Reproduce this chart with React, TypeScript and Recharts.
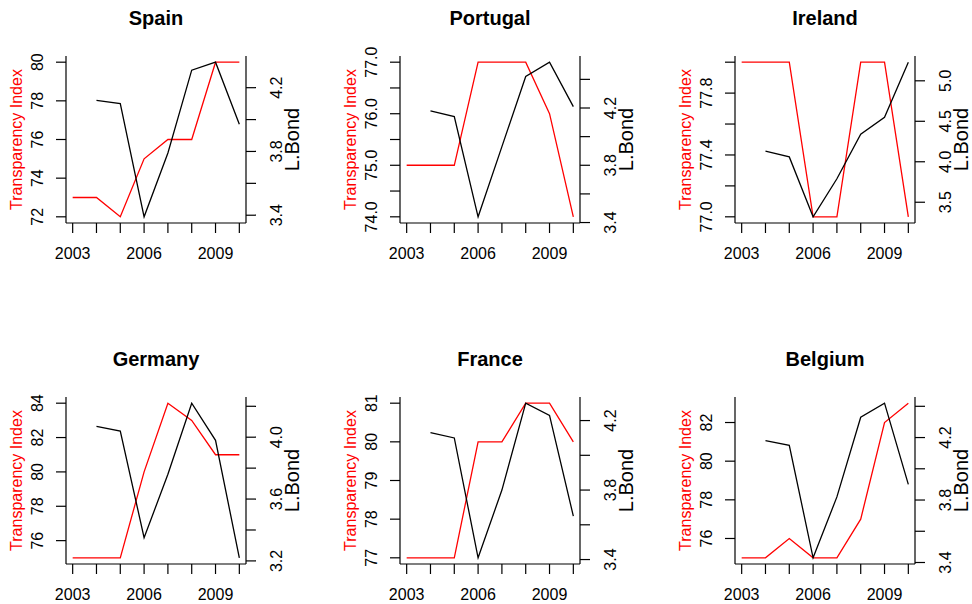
import React from 'react';
import { LineChart, Line, XAxis, YAxis } from 'recharts';

// ---------- data ----------
const years = [2003, 2004, 2005, 2006, 2007, 2008, 2009, 2010];
const xTickLabels = ['2003', '', '', '2006', '', '', '2009', ''];

const spainTI = [73, 73, 72, 75, 76, 76, 80, 80];
const spainBond = [null, 4.12, 4.10, 3.39, 3.79, 4.31, 4.36, 3.97];
const spainLeftTicks = [72, 74, 76, 78, 80];
const spainLeftLabels = ['72', '74', '76', '78', '80'];
const spainRightTicks = [3.4, 3.6, 3.8, 4.0, 4.2];
const spainRightLabels = ['3.4', '', '3.8', '', '4.2'];

const portugalTI = [75, 75, 75, 77, 77, 77, 76, 74];
const portugalBond = [null, 4.18, 4.14, 3.44, 3.93, 4.42, 4.52, 4.21];
const portugalLeftTicks = [74.0, 74.5, 75.0, 75.5, 76.0, 76.5, 77.0];
const portugalLeftLabels = ['74.0', '', '75.0', '', '76.0', '', '77.0'];
const portugalRightTicks = [3.4, 3.6, 3.8, 4.0, 4.2, 4.4];
const portugalRightLabels = ['3.4', '', '3.8', '', '4.2', ''];

const irelandTI = [78, 78, 78, 77, 77, 78, 78, 77];
const irelandBond = [null, 4.13, 4.06, 3.32, 3.79, 4.34, 4.55, 5.23];
const irelandLeftTicks = [77.0, 77.2, 77.4, 77.6, 77.8, 78.0];
const irelandLeftLabels = ['77.0', '', '77.4', '', '77.8', ''];
const irelandRightTicks = [3.5, 4.0, 4.5, 5.0];
const irelandRightLabels = ['3.5', '4.0', '4.5', '5.0'];

const germanyTI = [75, 75, 75, 80, 84, 83, 81, 81];
const germanyBond = [null, 4.07, 4.04, 3.35, 3.76, 4.22, 3.98, 3.22];
const germanyLeftTicks = [76, 78, 80, 82, 84];
const germanyLeftLabels = ['76', '78', '80', '82', '84'];
const germanyRightTicks = [3.2, 3.4, 3.6, 3.8, 4.0, 4.2];
const germanyRightLabels = ['3.2', '', '3.6', '', '4.0', ''];

const franceTI = [77, 77, 77, 80, 80, 81, 81, 80];
const franceBond = [null, 4.13, 4.10, 3.41, 3.80, 4.30, 4.23, 3.65];
const franceLeftTicks = [77, 78, 79, 80, 81];
const franceLeftLabels = ['77', '78', '79', '80', '81'];
const franceRightTicks = [3.4, 3.6, 3.8, 4.0, 4.2];
const franceRightLabels = ['3.4', '', '3.8', '', '4.2'];

const belgiumTI = [75, 75, 76, 75, 75, 77, 82, 83];
const belgiumBond = [null, 4.18, 4.15, 3.43, 3.82, 4.33, 4.42, 3.90];
const belgiumLeftTicks = [76, 78, 80, 82];
const belgiumLeftLabels = ['76', '78', '80', '82'];
const belgiumRightTicks = [3.4, 3.6, 3.8, 4.0, 4.2, 4.4];
const belgiumRightLabels = ['3.4', '', '3.8', '', '4.2', ''];

// ---------- layout ----------
const W = 972;
const H = 604;
const BOX_W = 180;
const BOX_H = 167;
const LEFT_W = 40;
const RIGHT_W = 40;
const X_H = 40;
const FONT = 'Liberation Sans, Arial, Helvetica, sans-serif';

const padDomain = (vals: (number | null)[]): [number, number] => {
  const v = vals.filter((d) => d !== null) as number[];
  const lo = Math.min(...v);
  const hi = Math.max(...v);
  const r = hi - lo;
  return [lo - 0.04 * r, hi + 0.04 * r];
};

const labelFor = (ticks: number[], labels: string[], value: number) => {
  const i = ticks.findIndex((t) => Math.abs(t - value) < 1e-6);
  return i >= 0 ? labels[i] : '';
};

type PanelProps = {
  title: string;
  ti: number[];
  bond: (number | null)[];
  leftTicks: number[];
  leftLabels: string[];
  rightTicks: number[];
  rightLabels: string[];
  boxLeft: number;
  boxTop: number;
};

const Panel = (p: PanelProps) => {
  const data = years.map((y, i) => ({ year: y, ti: p.ti[i], bond: p.bond[i] }));
  const boxRight = p.boxLeft + BOX_W;
  const boxBottom = p.boxTop + BOX_H;
  const xDomain = padDomain(years);
  const lDomain = padDomain(p.ti);
  const rDomain = padDomain(p.bond);
  const margin = {
    left: p.boxLeft - LEFT_W,
    right: W - boxRight - RIGHT_W,
    top: p.boxTop,
    bottom: H - boxBottom - X_H,
  };
  const axisStroke = { stroke: '#000', strokeWidth: 1.2 };

  const leftTick = (props: any) => {
    const { y, payload } = props;
    const lab = labelFor(p.leftTicks, p.leftLabels, payload.value);
    if (!lab) return <g />;
    const cx = p.boxLeft - 28.5;
    return (
      <text x={cx} y={y} transform={`rotate(-90 ${cx} ${y})`} textAnchor="middle"
        dominantBaseline="central" fontSize={16} fill="#000" fontFamily={FONT}>{lab}</text>
    );
  };
  const rightTick = (props: any) => {
    const { y, payload } = props;
    const lab = labelFor(p.rightTicks, p.rightLabels, payload.value);
    if (!lab) return <g />;
    const cx = boxRight + 31;
    return (
      <text x={cx} y={y} transform={`rotate(-90 ${cx} ${y})`} textAnchor="middle"
        dominantBaseline="central" fontSize={16} fill="#000" fontFamily={FONT}>{lab}</text>
    );
  };
  const xTick = (props: any) => {
    const { x, payload } = props;
    const lab = labelFor(years, xTickLabels, payload.value);
    if (!lab) return <g />;
    return (
      <text x={x} y={boxBottom + 35.6} textAnchor="middle" fontSize={16} fill="#000" fontFamily={FONT}>{lab}</text>
    );
  };

  return (
    <div style={{ position: 'absolute', left: 0, top: 0, width: W, height: H, pointerEvents: 'none' }}>
      <LineChart width={W} height={H} data={data} margin={margin}>
        <XAxis dataKey="year" type="number" domain={xDomain} ticks={years} interval={0}
          allowDataOverflow tickSize={10} tickLine={axisStroke} axisLine={axisStroke}
          height={X_H} tick={xTick} />
        <XAxis xAxisId="top" orientation="top" dataKey="year" type="number" domain={xDomain}
          allowDataOverflow height={0} tick={false} tickLine={false} axisLine={axisStroke} />
        <YAxis yAxisId="l" orientation="left" type="number" domain={lDomain} ticks={p.leftTicks}
          interval={0} allowDataOverflow width={LEFT_W} tickSize={10} tickLine={axisStroke}
          axisLine={axisStroke} tick={leftTick} />
        <YAxis yAxisId="r" orientation="right" type="number" domain={rDomain} ticks={p.rightTicks}
          interval={0} allowDataOverflow width={RIGHT_W} tickSize={10} tickLine={axisStroke}
          axisLine={axisStroke} tick={rightTick} />
        <Line yAxisId="l" type="linear" dataKey="ti" stroke="#ff0000" strokeWidth={1.3}
          dot={false} activeDot={false} isAnimationActive={false} />
        <Line yAxisId="r" type="linear" dataKey="bond" stroke="#000000" strokeWidth={1.3}
          dot={false} activeDot={false} isAnimationActive={false} connectNulls={false} />
      </LineChart>
      <svg width={W} height={H} style={{ position: 'absolute', left: 0, top: 0 }}>
        <text x={p.boxLeft + BOX_W / 2} y={p.boxTop - 31} textAnchor="middle" fontSize={20}
          fontWeight="bold" fill="#000" fontFamily={FONT}>{p.title}</text>
        <text x={p.boxLeft - 44} y={p.boxTop + BOX_H / 2}
          transform={`rotate(-90 ${p.boxLeft - 44} ${p.boxTop + BOX_H / 2})`}
          textAnchor="middle" fontSize={16} fill="#ff0000" fontFamily={FONT}>Transparency Index</text>
        <text x={boxRight + 52.5} y={p.boxTop + BOX_H / 2}
          transform={`rotate(-90 ${boxRight + 52.5} ${p.boxTop + BOX_H / 2})`}
          textAnchor="middle" fontSize={20} fill="#000" fontFamily={FONT}>L.Bond</text>
      </svg>
    </div>
  );
}

export default function App() {
  return (
    <div style={{ position: 'absolute', left: 0, top: 0, width: W, height: H, background: '#fff', overflow: 'hidden' }}>
      <Panel title="Spain" ti={spainTI} bond={spainBond} leftTicks={spainLeftTicks} leftLabels={spainLeftLabels}
        rightTicks={spainRightTicks} rightLabels={spainRightLabels} boxLeft={66} boxTop={56} />
      <Panel title="Portugal" ti={portugalTI} bond={portugalBond} leftTicks={portugalLeftTicks} leftLabels={portugalLeftLabels}
        rightTicks={portugalRightTicks} rightLabels={portugalRightLabels} boxLeft={400} boxTop={56} />
      <Panel title="Ireland" ti={irelandTI} bond={irelandBond} leftTicks={irelandLeftTicks} leftLabels={irelandLeftLabels}
        rightTicks={irelandRightTicks} rightLabels={irelandRightLabels} boxLeft={735} boxTop={56} />
      <Panel title="Germany" ti={germanyTI} bond={germanyBond} leftTicks={germanyLeftTicks} leftLabels={germanyLeftLabels}
        rightTicks={germanyRightTicks} rightLabels={germanyRightLabels} boxLeft={66} boxTop={397} />
      <Panel title="France" ti={franceTI} bond={franceBond} leftTicks={franceLeftTicks} leftLabels={franceLeftLabels}
        rightTicks={franceRightTicks} rightLabels={franceRightLabels} boxLeft={400} boxTop={397} />
      <Panel title="Belgium" ti={belgiumTI} bond={belgiumBond} leftTicks={belgiumLeftTicks} leftLabels={belgiumLeftLabels}
        rightTicks={belgiumRightTicks} rightLabels={belgiumRightLabels} boxLeft={735} boxTop={397} />
    </div>
  );
}
